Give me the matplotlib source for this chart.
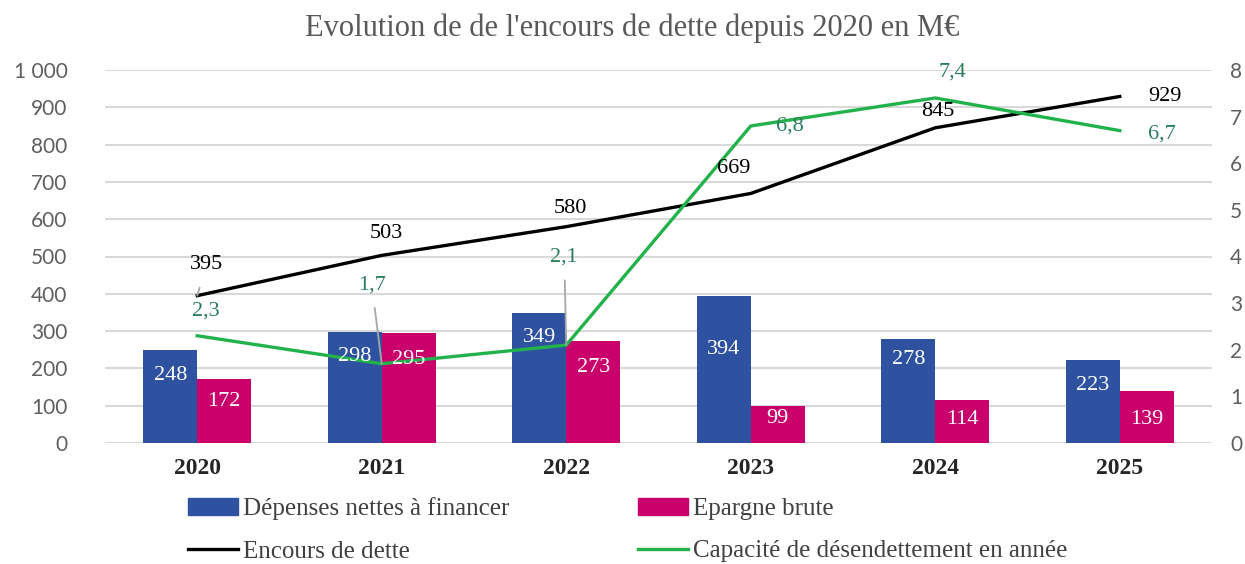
import matplotlib
matplotlib.use("Agg")
import matplotlib.pyplot as plt
from matplotlib.patches import Patch
from matplotlib.lines import Line2D
import numpy as np

# ---- data ----
years = ["2020", "2021", "2022", "2023", "2024", "2025"]
depenses = [248, 298, 349, 394, 278, 223]
epargne = [172, 295, 273, 99, 114, 139]
encours = [395, 503, 580, 669, 845, 929]
capacite = [2.3, 1.7, 2.1, 6.8, 7.4, 6.7]
capacite_labels = ["2,3", "1,7", "2,1", "6,8", "7,4", "6,7"]

# ---- style ----
BLUE = "#2F52A0"
PINK = "#C9006B"
GREEN = "#22B24C"
GREEN_TXT = "#2A7D5A"
GRID = "#D9D9D9"
TICK = "#5F5F5F"
SERIF = "Liberation Serif"

W, H = 1245, 564
fig = plt.figure(figsize=(W / 100, H / 100), dpi=100)
ax = fig.add_axes([105 / W, 1 - 443 / H, (1212 - 105) / W, (443 - 70) / H])
ax2 = ax.twinx()

x = np.arange(len(years))
bw = 0.293
ax.bar(x - bw / 2, depenses, bw, color=BLUE, zorder=2)
ax.bar(x + bw / 2, epargne, bw, color=PINK, zorder=2)
ax.plot(x, encours, color="black", lw=2.4, zorder=4)
ax2.plot(x, capacite, color=GREEN, lw=2.4, zorder=4)

ax.set_xlim(-0.5, len(years) - 0.5)
ax.set_ylim(0, 1000)
ax2.set_ylim(0, 8)
ax.set_yticks(np.arange(0, 1001, 100))
ax.set_yticklabels([f"{v:,}".replace(",", " ") for v in range(0, 1001, 100)])
ax2.set_yticks(range(0, 9))
ax.grid(axis="y", color=GRID, lw=1.5, zorder=0)
ax.set_axisbelow(True)
for a in (ax, ax2):
    for s in a.spines.values():
        s.set_visible(False)
ax.tick_params(axis="y", length=0, pad=27, labelsize=15, labelcolor=TICK)
ax2.tick_params(axis="y", length=0, pad=13, labelsize=15, labelcolor=TICK)
for lab in ax.get_yticklabels() + ax2.get_yticklabels():
    lab.set_fontfamily("Lato")
ax.set_xticks(x)
ax.set_xticklabels(years, fontfamily=SERIF, fontweight="bold", fontsize=17, color="#262626")
ax.tick_params(axis="x", length=0, pad=11)

# draw line axis above bars
ax2.set_zorder(ax.get_zorder() + 1)
ax2.patch.set_visible(False)

LBL = 16
# bar labels (white, inside near top)
bar_off_blue = [-25, -25, -25, -53, -20, -26]
bar_off_pink = [-23, -27, -26, -12, -19, -28]
for i in range(len(years)):
    ax2.annotate(str(depenses[i]), xy=(x[i] - bw / 2, depenses[i] * 8 / 1000),
                 xytext=(0, bar_off_blue[i]), textcoords="offset pixels",
                 ha="center", va="center", color="white", fontsize=LBL,
                 fontfamily=SERIF, zorder=6)
    ax2.annotate(str(epargne[i]), xy=(x[i] + bw / 2, epargne[i] * 8 / 1000),
                 xytext=(0, bar_off_pink[i]), textcoords="offset pixels",
                 ha="center", va="center", color="white", fontsize=LBL,
                 fontfamily=SERIF, zorder=6)

# line labels
lead = dict(arrowstyle="-", color="#A6A6A6", lw=1.3, shrinkA=8, shrinkB=0)
enc_off = [(9, 31), (5, 22), (4, 18), (-17, 25), (3, 16), (45, 0)]
enc_lead = [True, False, False, False, False, False]
for i in range(len(years)):
    ax2.annotate(str(encours[i]), xy=(x[i], encours[i] * 8 / 1000),
                 xytext=enc_off[i], textcoords="offset pixels",
                 ha="center", va="center", color="black", fontsize=LBL,
                 fontfamily=SERIF, zorder=7,
                 arrowprops=lead if enc_lead[i] else None)
cap_off = [(9, 25), (-10, 79), (-2, 88), (39, 0), (17, 26), (42, -3)]
cap_lead = [False, True, True, False, False, False]
for i in range(len(years)):
    ax2.annotate(capacite_labels[i], xy=(x[i], capacite[i]),
                 xytext=cap_off[i], textcoords="offset pixels",
                 ha="center", va="center", color=GREEN_TXT, fontsize=LBL,
                 fontfamily=SERIF, zorder=7,
                 arrowprops=lead if cap_lead[i] else None)

# title
fig.text(632 / W, 1 - 28 / H, "Evolution de de l'encours de dette depuis 2020 en M€",
         ha="center", va="center", fontsize=22, fontfamily=SERIF, color="#595959")

# legends
lkw = dict(frameon=False, handlelength=2.0, handletextpad=0.2,
           labelspacing=0.8, borderpad=0, borderaxespad=0, loc="center left",
           prop={"family": SERIF, "size": 18})
h1 = [Patch(color=BLUE), Line2D([], [], color="black", lw=2.4)]
h2 = [Patch(color=PINK), Line2D([], [], color=GREEN, lw=2.4)]
leg1 = fig.legend(h1, ["Dépenses nettes à financer", "Encours de dette"],
                  bbox_to_anchor=(188 / W, 1 - 530 / H), **lkw)
leg2 = fig.legend(h2, ["Epargne brute", "Capacité de désendettement en année"],
                  bbox_to_anchor=(638 / W, 1 - 530 / H), **lkw)
for lg in (leg1, leg2):
    for t in lg.get_texts():
        t.set_color("#404040")

fig.savefig("out.png", dpi=100)
